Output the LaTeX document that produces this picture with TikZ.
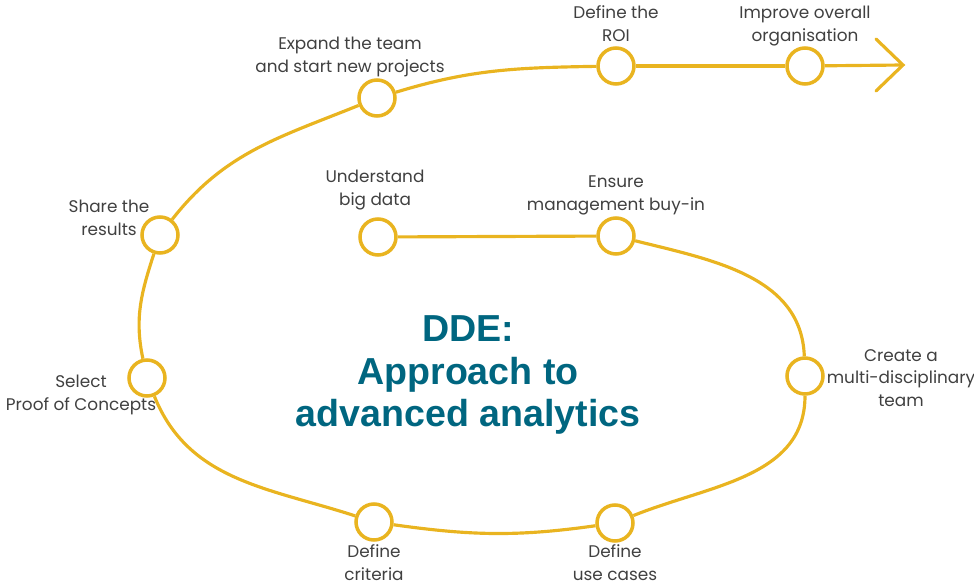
\documentclass[tikz,border=0pt]{standalone}
\usepackage{fontspec}
\setmainfont{Poppins}
\newfontfamily\titlefont{Liberation Sans}
\definecolor{gold}{RGB}{233,180,32}
\definecolor{ddeteal}{RGB}{0,102,128}
\definecolor{txt}{RGB}{64,64,64}
\begin{document}
\begin{tikzpicture}[x=0.02cm,y=-0.02cm]
\useasboundingbox (0,0) rectangle (974,587);
\tikzset{
 stop/.style={circle, draw=gold, line width=2pt, fill=white, minimum size=0.72cm, inner sep=0},
 lbl/.style={font=\fontsize{9.6}{13}\selectfont, text=txt, align=center, inner sep=0},
 trail/.style={draw=gold, line width=1.8pt},
 title/.style={font=\titlefont\bfseries\fontsize{21.4}{24.2}\selectfont, text=ddeteal, align=center, inner sep=0}
}
% stops
\node[stop] (und) at (378,237) {};
\node[stop] (ens) at (616,236) {};
\node[stop] (cre) at (805,376) {};
\node[stop] (usec) at (615,523) {};
\node[stop] (crit) at (374,522) {};
\node[stop] (sel) at (147,378) {};
\node[stop] (sha) at (160,235) {};
\node[stop] (exp) at (377,98) {};
\node[stop] (roi) at (616,66) {};
\node[stop] (imp) at (805,66) {};
\coordinate (tip) at (903,65);
\coordinate (armtop) at (876,39);
\coordinate (armbot) at (876,91);
% trail
\draw[trail] (und) -- (ens);
\draw[trail] (ens) to[out=-14,in=92] (cre);
\draw[trail] (cre) to[out=-90,in=22] (usec);
\draw[trail] (usec) to[out=188,in=-8] (crit);
\draw[trail] (crit) to[out=162,in=-68] (sel);
\draw[trail] (sel) to[out=102,in=-108] (sha);
\draw[trail] (sha) to[out=52,in=202] (exp);
\draw[trail] (exp) to[out=17,in=181] (roi);
\draw[trail] (roi) -- (imp);
\draw[trail] (imp) -- (tip);
\draw[trail, line cap=round, line join=miter] (armtop) -- (tip) -- (armbot);
% labels
\node[lbl] (lund) at (375,190) {Understand\\big data};
\node[lbl] (lens) at (616,195) {Ensure\\management buy-in};
\node[lbl] (lcre) at (901,378) {Create a\\multi-disciplinary\\team};
\node[lbl] (lusec) at (615,563) {Define\\use cases};
\node[lbl] (lcrit) at (374,563) {Define\\criteria};
\node[lbl] (lsel) at (81,395) {Select\\Proof of Concepts};
\node[lbl] (lsha) at (109,218) {Share the\\results};
\node[lbl] (lexp) at (350,57) {Expand the team\\and start new projects};
\node[lbl] (lroi) at (616,24) {Define the\\ROI};
\node[lbl] (limp) at (805,26) {Improve overall\\organisation};
% title
\node[title] (ttl) at (468,375) {DDE:\\Approach to\\advanced analytics};
\end{tikzpicture}
\end{document}
